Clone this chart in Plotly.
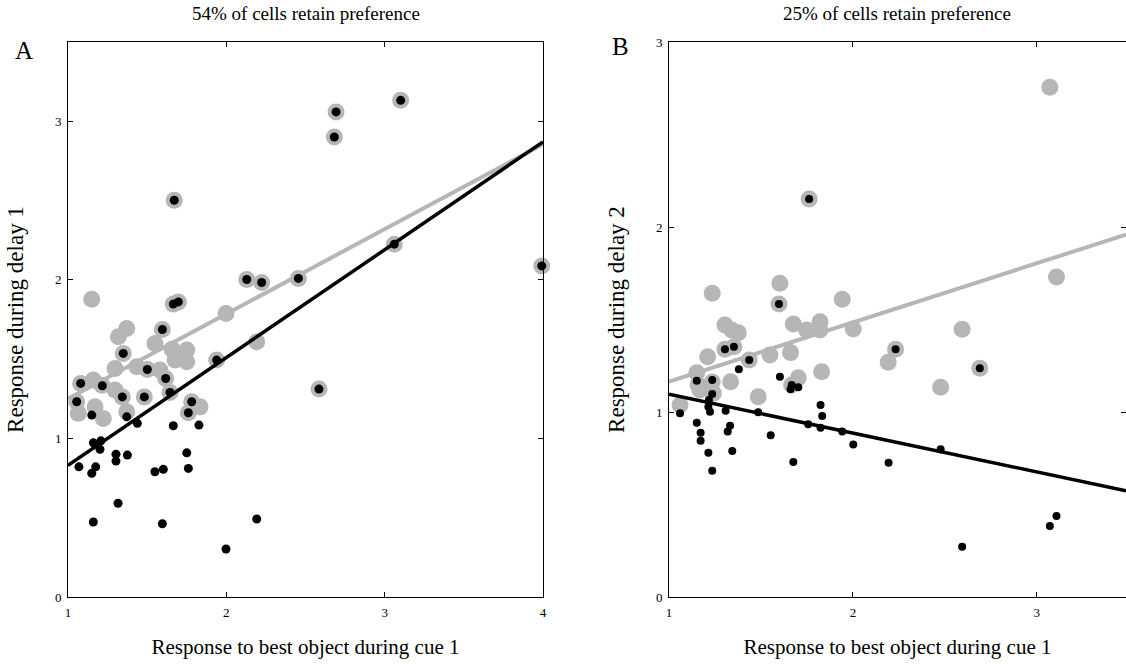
import numpy as np
import plotly.graph_objects as go

# ---------------- Panel A data ----------------
a_gray_x = [1.055, 1.080, 1.065, 1.150, 1.160, 1.171, 1.223, 1.215, 1.297, 1.343,
            1.482, 1.371, 1.297, 1.434, 1.501, 1.581, 1.617, 1.644, 1.349, 1.371,
            1.318, 1.549, 1.596, 1.657, 1.750, 1.750, 1.676, 1.665, 1.697, 1.671,
            1.781, 1.760, 1.834, 1.939, 1.998, 2.192, 2.129, 2.223, 2.455, 2.585,
            2.693, 2.682, 3.101, 3.061, 3.992]
a_gray_y = [1.231, 1.347, 1.158, 1.878, 1.368, 1.199, 1.126, 1.336, 1.305, 1.262,
            1.262, 1.168, 1.441, 1.452, 1.435, 1.431, 1.378, 1.290, 1.536, 1.693,
            1.641, 1.599, 1.687, 1.563, 1.557, 1.483, 1.494, 1.847, 1.861, 2.502,
            1.231, 1.162, 1.199, 1.494, 1.788, 1.609, 2.002, 1.983, 2.009, 1.311,
            3.059, 2.901, 3.132, 2.225, 2.088]

a_black_x = [1.055, 1.080, 1.217, 1.343, 1.482, 1.501, 1.617, 1.644, 1.349, 1.596,
             1.665, 1.697, 1.671, 1.781, 1.760, 1.939, 2.129, 2.223, 2.455, 2.585,
             2.693, 2.682, 3.101, 3.061, 3.992,
             1.150, 1.371, 1.438, 1.665, 1.827, 1.160, 1.208, 1.202, 1.069, 1.175,
             1.150, 1.303, 1.303, 1.375, 1.750, 1.760, 1.549, 1.602, 1.316, 1.160,
             1.596, 2.192, 1.998]
a_black_y = [1.231, 1.347, 1.332, 1.262, 1.262, 1.435, 1.378, 1.290, 1.536, 1.687,
             1.847, 1.861, 2.502, 1.231, 1.162, 1.494, 2.002, 1.983, 2.009, 1.311,
             3.059, 2.901, 3.132, 2.225, 2.088,
             1.147, 1.136, 1.095, 1.080, 1.084, 0.972, 0.985, 0.931, 0.821, 0.821,
             0.780, 0.901, 0.857, 0.895, 0.909, 0.811, 0.790, 0.805, 0.591, 0.473,
             0.462, 0.492, 0.303]

# regression lines: (value at x = 1, slope)
a_gray_fit = (1.25, 0.535)
a_black_fit = (0.83, 0.68)

# ---------------- Panel B data ----------------
b_gray_x = [1.603, 1.598, 1.235, 1.942, 1.304, 1.377, 1.341, 1.676, 1.748, 1.821,
            1.821, 2.002, 1.210, 1.304, 1.353, 1.436, 1.549, 1.661, 1.151, 1.158,
            1.335, 1.703, 1.667, 1.830, 2.192, 2.232, 1.485, 1.060, 1.241, 1.235,
            2.594, 2.690, 2.477, 3.107, 3.071, 1.762, 1.168]
b_gray_y = [1.696, 1.584, 1.642, 1.609, 1.470, 1.429, 1.443, 1.476, 1.443, 1.488,
            1.443, 1.449, 1.299, 1.339, 1.353, 1.281, 1.308, 1.321, 1.212, 1.146,
            1.164, 1.185, 1.146, 1.218, 1.269, 1.339, 1.083, 1.038, 1.101, 1.162,
            1.447, 1.236, 1.134, 1.730, 2.755, 2.151, 1.119]

b_black_x = [1.598, 1.304, 1.353, 1.436, 1.380, 1.603, 1.667, 1.703, 1.661, 2.232,
             2.690, 1.762, 1.151, 1.235, 1.235, 1.217, 1.214, 1.223, 1.060, 1.308,
             1.485, 1.824, 1.833, 1.757, 1.824, 1.942, 1.151, 1.332, 1.319, 1.172,
             1.172, 1.553, 2.002, 1.214, 1.344, 1.676, 1.235, 2.194, 2.477, 3.107,
             3.071, 2.594]
b_black_y = [1.584, 1.339, 1.353, 1.281, 1.231, 1.191, 1.146, 1.134, 1.123, 1.339,
             1.236, 2.151, 1.169, 1.173, 1.097, 1.065, 1.029, 1.002, 0.993, 1.007,
             0.998, 1.038, 0.978, 0.934, 0.915, 0.894, 0.942, 0.926, 0.894, 0.888,
             0.845, 0.874, 0.824, 0.780, 0.789, 0.730, 0.683, 0.726, 0.798, 0.438,
             0.384, 0.272]

b_gray_fit = (1.164, 0.32)
b_black_fit = (1.096, -0.21)

# ---------------- axes ranges / ticks ----------------
a_xrange, a_yrange = [1, 4], [0, 3.5]
b_xrange, b_yrange = [1, 3.485], [0, 3]
a_xticks, a_yticks = [1, 2, 3, 4], [0, 1, 2, 3]
b_xticks, b_yticks = [1, 2, 3], [0, 1, 2, 3]

GRAY = "#b6b6b6"
FONT = "Liberation Serif, Times New Roman, serif"


def fit_line(fit, xr):
    xs = np.array(xr, dtype=float)
    return xs, fit[0] + fit[1] * (xs - 1.0)


fig = go.Figure()


def add_panel(gx, gy, bx, by, gfit, bfit, xr, xa, ya, bsize):
    fig.add_trace(go.Scatter(x=gx, y=gy, mode="markers", xaxis=xa, yaxis=ya,
                             marker=dict(color=GRAY, size=17, line=dict(width=0)),
                             cliponaxis=False, showlegend=False))
    lx, ly = fit_line(gfit, xr)
    fig.add_trace(go.Scatter(x=lx, y=ly, mode="lines", xaxis=xa, yaxis=ya,
                             line=dict(color=GRAY, width=4), showlegend=False))
    lx, ly = fit_line(bfit, xr)
    fig.add_trace(go.Scatter(x=lx, y=ly, mode="lines", xaxis=xa, yaxis=ya,
                             line=dict(color="black", width=3.5), showlegend=False))
    fig.add_trace(go.Scatter(x=bx, y=by, mode="markers", xaxis=xa, yaxis=ya,
                             marker=dict(color="black", size=bsize, line=dict(width=0)),
                             cliponaxis=False, showlegend=False))


add_panel(a_gray_x, a_gray_y, a_black_x, a_black_y, a_gray_fit, a_black_fit,
          a_xrange, "x", "y", 9)
add_panel(b_gray_x, b_gray_y, b_black_x, b_black_y, b_gray_fit, b_black_fit,
          b_xrange, "x2", "y2", 8)

W, H = 1126, 664
ybot, ytop = (H - 597) / H, (H - 42) / H

axis_common = dict(showline=True, linecolor="black", linewidth=1, mirror="ticks",
                   ticks="inside", ticklen=5, tickcolor="black", tickwidth=1,
                   showgrid=False, zeroline=False, automargin=False,
                   ticklabelstandoff=3,
                   tickfont=dict(family=FONT, size=13, color="black"))

fig.update_layout(
    width=W, height=H,
    margin=dict(l=0, r=0, t=0, b=0),
    paper_bgcolor="white", plot_bgcolor="white",
    font=dict(family=FONT, color="black"),
    xaxis=dict(domain=[68 / W, 543 / W], range=a_xrange, tickvals=a_xticks,
               title=dict(text="Response to best object during cue 1",
                          font=dict(size=21), standoff=20), anchor="y", **axis_common),
    yaxis=dict(domain=[ybot, ytop], range=a_yrange, tickvals=a_yticks,
               title=dict(text="Response during delay 1", font=dict(size=23), standoff=24),
               anchor="x", **axis_common),
    xaxis2=dict(domain=[669 / W, 1.0], range=b_xrange, tickvals=b_xticks,
                title=dict(text="Response to best object during cue 1",
                           font=dict(size=21), standoff=20), anchor="y2", **axis_common),
    yaxis2=dict(domain=[ybot, ytop], range=b_yrange, tickvals=b_yticks,
                title=dict(text="Response during delay 2", font=dict(size=23), standoff=24),
                anchor="x2", **axis_common),
    annotations=[
        dict(text="54% of cells retain preference", x=306 / W, y=1 - 13 / H,
             xref="paper", yref="paper", showarrow=False, font=dict(size=19),
             xanchor="center", yanchor="middle"),
        dict(text="25% of cells retain preference", x=897 / W, y=1 - 13 / H,
             xref="paper", yref="paper", showarrow=False, font=dict(size=19),
             xanchor="center", yanchor="middle"),
        dict(text="A", x=24 / W, y=1 - 51 / H, xref="paper", yref="paper",
             showarrow=False, font=dict(size=25), xanchor="center", yanchor="middle"),
        dict(text="B", x=620 / W, y=1 - 47 / H, xref="paper", yref="paper",
             showarrow=False, font=dict(size=25), xanchor="center", yanchor="middle"),
    ],
)

fig.write_html("out.html")
